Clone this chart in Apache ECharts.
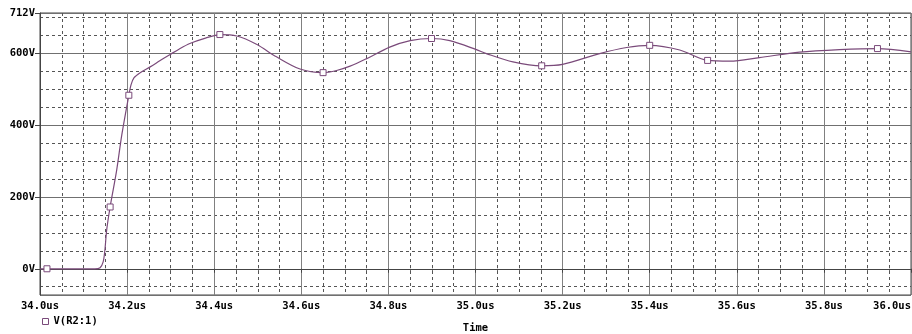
<!DOCTYPE html>
<html>
<head>
<meta charset="utf-8">
<script src="https://cdn.jsdelivr.net/npm/echarts@6/dist/echarts.min.js"></script>
<style>
  html, body { margin: 0; padding: 0; background: #fff; }
  #chart { width: 912px; height: 334px; }
</style>
</head>
<body>
<div id="chart"></div>
<script>
// Transient voltage at node V(R2:1): time in microseconds, voltage in volts
const timeUs = [34.000, 34.016, 34.126, 34.138, 34.145, 34.149, 34.153, 34.161, 34.176, 34.188,
                34.204, 34.209, 34.216, 34.230, 34.253, 34.275, 34.298, 34.320, 34.344, 34.380,
                34.413, 34.452, 34.497, 34.543, 34.597, 34.650, 34.681, 34.712, 34.750, 34.803,
                34.850, 34.899, 34.941, 35.002, 35.025, 35.086, 35.152, 35.200, 35.285, 35.347,
                35.400, 35.469, 35.533, 35.584, 35.652, 35.744, 35.836, 35.923, 36.000];
const volts  = [0, 0, 0, 3, 19, 52, 107, 172, 274, 374,
                483, 512, 532, 546, 562, 579, 596, 612, 627, 642,
                652, 648, 625, 590, 556, 546, 552, 564, 585, 617,
                635, 641, 635, 610, 599, 576, 565, 569, 599, 616,
                622, 609, 580, 578, 588, 603, 610, 613, 604];
// Sample indices that carry the trace's square marker
const markerIdx = [1, 7, 10, 20, 25, 31, 36, 40, 42, 47];

const seriesName = 'V(R2:1)';
const traceColor = '#7a4a7a';
const monoFont = '"DejaVu Sans Mono", monospace';

const points = timeUs.map((t, i) => [t, volts[i]]);

const chart = echarts.init(document.getElementById('chart'), null, { renderer: 'canvas' });
chart.setOption({
  animation: false,
  backgroundColor: '#ffffff',
  grid: {
    left: 40, right: 1, top: 13, bottom: 39,
    containLabel: false, outerBoundsMode: 'none',
    show: true, borderColor: '#444', borderWidth: 1
  },
  legend: {
    data: [seriesName],
    left: 37, top: 311,
    icon: 'rect', itemWidth: 6, itemHeight: 6, itemGap: 6,
    itemStyle: { color: '#fff', borderColor: traceColor, borderWidth: 1 },
    textStyle: { fontFamily: monoFont, fontWeight: 'bold', fontSize: 10.5, color: '#000' }
  },
  xAxis: {
    type: 'value', min: 34.0, max: 36.0, interval: 0.2,
    name: 'Time', nameLocation: 'middle', nameGap: 28,
    nameTextStyle: { fontFamily: monoFont, fontWeight: 'bold', fontSize: 10.5, color: '#000' },
    axisLine: { lineStyle: { color: '#444', width: 1 } },
    axisTick: { show: true, length: 4, lineStyle: { color: '#444' } },
    minorTick: { show: true, splitNumber: 4, length: 2, lineStyle: { color: '#444' } },
    axisLabel: {
      fontFamily: monoFont, fontWeight: 'bold', fontSize: 10.5, color: '#000', margin: 6,
      alignMaxLabel: 'right',
      formatter: v => v.toFixed(1) + 'us'
    },
    splitLine: { show: true, lineStyle: { color: '#808080', width: 1 } },
    minorSplitLine: { show: true, lineStyle: { color: '#555', width: 1, type: [3, 3] } }
  },
  yAxis: {
    type: 'value', min: -73, max: 712, splitNumber: 4,
    axisLine: { show: true, lineStyle: { color: '#444', width: 1 } },
    axisTick: { show: true, length: 5, lineStyle: { color: '#444' } },
    axisLabel: {
      fontFamily: monoFont, fontWeight: 'bold', fontSize: 10.5, color: '#000', margin: 5,
      showMinLabel: false,
      formatter: v => v + 'V'
    },
    splitLine: { show: true, lineStyle: { color: '#707070', width: 1 } },
    minorTick: { show: false, splitNumber: 4 },
    minorSplitLine: { show: true, lineStyle: { color: '#555', width: 1, type: [3, 3] } }
  },
  series: [{
    name: seriesName,
    type: 'line',
    data: points,
    smooth: 0.3,
    showAllSymbol: true,
    symbol: (value, params) => markerIdx.includes(params.dataIndex) ? 'rect' : 'none',
    symbolSize: 6,
    lineStyle: { color: traceColor, width: 1.2 },
    itemStyle: { color: '#fff', borderColor: traceColor, borderWidth: 1 },
    z: 5
  }]
});
</script>
</body>
</html>
